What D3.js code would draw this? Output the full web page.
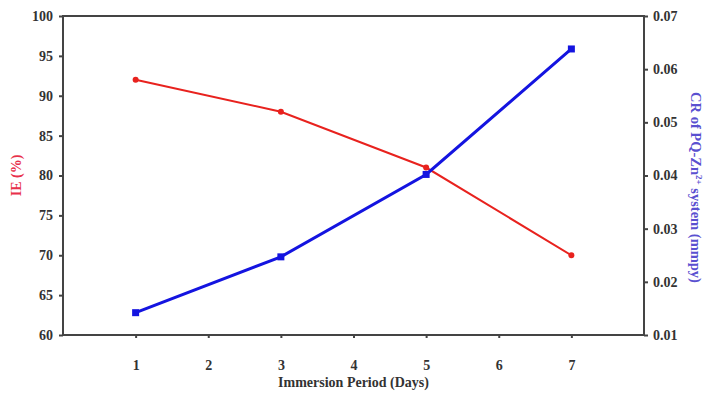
<!DOCTYPE html>
<html>
<head>
<meta charset="utf-8">
<script src="https://cdn.jsdelivr.net/npm/d3@7"></script>
<style>
  body { margin: 0; background: #fff; }
  text { font-family: "Liberation Serif", "Times New Roman", serif; font-weight: bold; }
</style>
</head>
<body>
<svg id="chart" width="708" height="394"></svg>
<script>
var days = [1, 3, 5, 7];
var ieValues = [92, 88, 81, 70];
var crValues = [0.0142, 0.0247, 0.0402, 0.0638];
var xTicks = [1, 2, 3, 4, 5, 6, 7];
var ieTicks = [60, 65, 70, 75, 80, 85, 90, 95, 100];
var crTicks = [0.01, 0.02, 0.03, 0.04, 0.05, 0.06, 0.07];

var margin = {left: 63, right: 64, top: 16, bottom: 59};
var width = 708 - margin.left - margin.right;
var height = 394 - margin.top - margin.bottom;

var svg = d3.select("#chart");
var g = svg.append('g')
  .attr('transform', 'translate(' + margin.left + ',' + margin.top + ')');

var x = d3.scaleLinear().domain([0, 8]).range([0, width]);
var yL = d3.scaleLinear().domain([60, 100]).range([height, 0]);
var yR = d3.scaleLinear().domain([0.01, 0.07]).range([height, 0]);

// frame
g.append('rect')
  .attr('width', width).attr('height', height)
  .attr('fill', 'none').attr('stroke', '#444').attr('stroke-width', 2);

var xAxis = g.append('g')
  .attr('transform', 'translate(0,' + height + ')')
  .call(d3.axisBottom(x).tickValues(xTicks).tickSize(3).tickPadding(22).tickFormat(d3.format('d')));
var leftAxis = g.append('g')
  .call(d3.axisLeft(yL).tickValues(ieTicks).tickSize(4).tickPadding(6));
var rightAxis = g.append('g')
  .attr('transform', 'translate(' + width + ',0)')
  .call(d3.axisRight(yR).tickValues(crTicks).tickSize(4).tickPadding(5).tickFormat(d3.format('.2f')));

[xAxis, leftAxis, rightAxis].forEach(function(a) {
  a.select('.domain').remove();
  a.selectAll('line').attr('stroke', '#444').attr('stroke-width', 2);
  a.selectAll('text').attr('fill', '#333').style('font-size', '14px')
    .style('font-family', '"Liberation Serif", serif').style('font-weight', 'bold');
});

// lines
var ieLine = d3.line()
  .x(function(d, i) { return x(days[i]); })
  .y(function(d) { return yL(d); });
var crLine = d3.line()
  .x(function(d, i) { return x(days[i]); })
  .y(function(d) { return yR(d); });

g.append('path').datum(ieValues)
  .attr('d', ieLine).attr('fill', 'none')
  .attr('stroke', '#e8221e').attr('stroke-width', 2);
g.selectAll('.ie-pt').data(ieValues).enter()
  .append('circle').attr('class', 'ie-pt')
  .attr('cx', function(d, i) { return x(days[i]); })
  .attr('cy', function(d) { return yL(d); })
  .attr('r', 3).attr('fill', '#e8221e');

g.append('path').datum(crValues)
  .attr('d', crLine).attr('fill', 'none')
  .attr('stroke', '#1414e0').attr('stroke-width', 3);
g.selectAll('.cr-pt').data(crValues).enter()
  .append('rect').attr('class', 'cr-pt')
  .attr('x', function(d, i) { return x(days[i]) - 3.5; })
  .attr('y', function(d) { return yR(d) - 3.5; })
  .attr('width', 7).attr('height', 7).attr('fill', '#1414e0');

// titles
svg.append('text')
  .attr('transform', 'translate(' + (margin.left + width / 2) + ',387)')
  .attr('text-anchor', 'middle').attr('fill', '#333').style('font-size', '14px')
  .text('Immersion Period (Days)');

svg.append('text')
  .attr('transform', 'translate(21,' + (margin.top + height / 2) + ') rotate(-90)')
  .attr('text-anchor', 'middle').attr('fill', '#e8304a').style('font-size', '14px')
  .text('IE (%)');

var rt = svg.append('text')
  .attr('transform', 'translate(691,' + (margin.top + height / 2 + 12) + ') rotate(90)')
  .attr('text-anchor', 'middle').attr('fill', '#5a50d0').style('font-size', '14.5px');
rt.append('tspan').text('CR of PQ-Zn');
rt.append('tspan').attr('baseline-shift', 'super').style('font-size', '9px').text('2+');
rt.append('tspan').text(' system (mmpy)');
</script>
</body>
</html>
